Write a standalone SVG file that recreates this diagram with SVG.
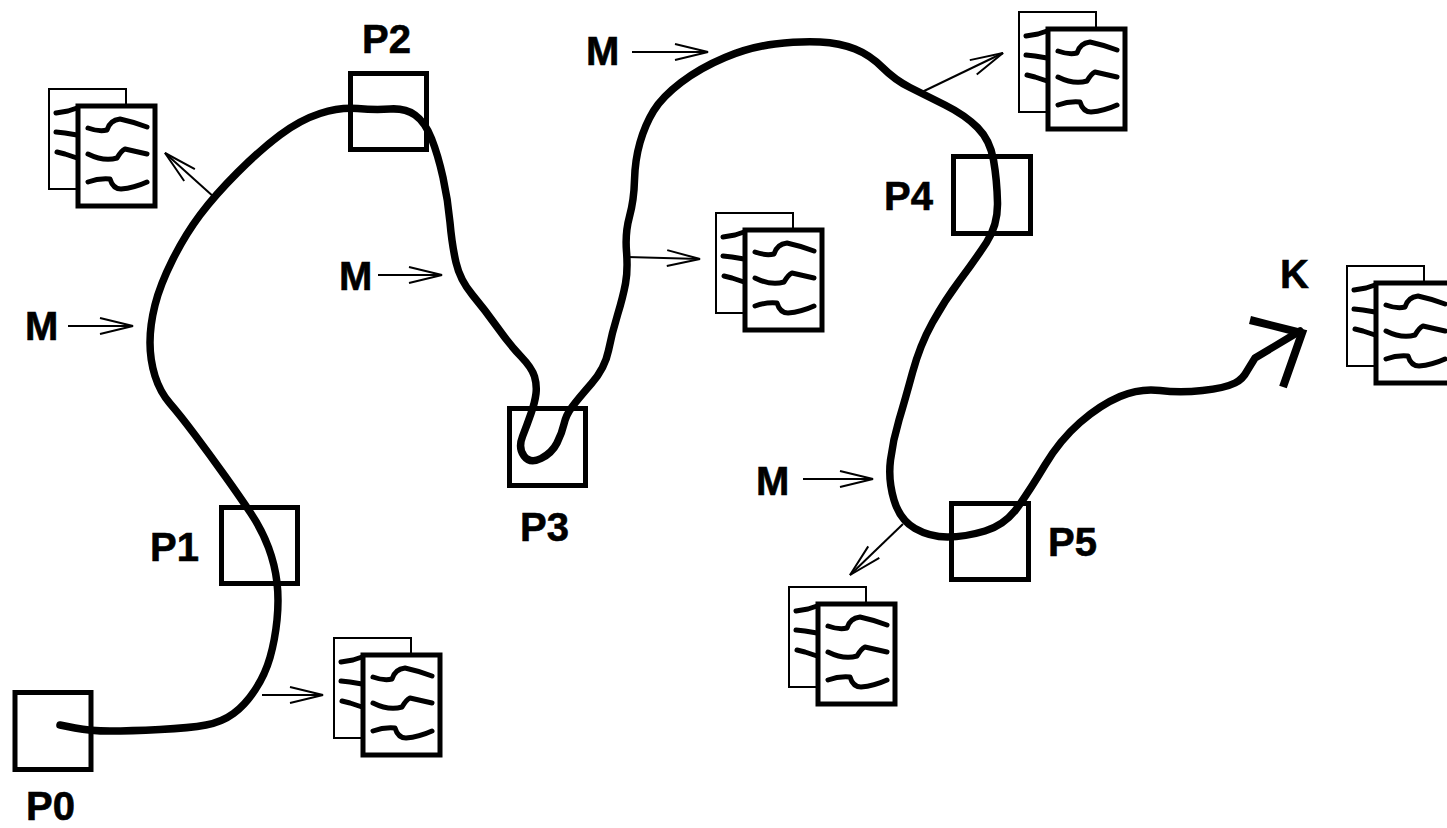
<svg xmlns="http://www.w3.org/2000/svg" xmlns:xlink="http://www.w3.org/1999/xlink" width="1447" height="828" viewBox="0 0 1447 828">
<style>
.box{fill:none;stroke:#000;stroke-width:5}
.lbl{font-family:"Liberation Sans",Arial,sans-serif;font-weight:700;font-size:40px;fill:#000;stroke:#000;stroke-width:.6}
.main{fill:none;stroke:#000;stroke-width:7.5;stroke-linecap:round;stroke-linejoin:round}
.tip{fill:none;stroke:#000;stroke-width:8;stroke-linejoin:miter}
.thin{fill:none;stroke:#000;stroke-width:2;marker-end:url(#open)}
.back{fill:#fff;stroke:#000;stroke-width:2}
.front{fill:#fff;stroke:#000;stroke-width:5}
.sq{fill:none;stroke:#000;stroke-width:5;stroke-linecap:round;stroke-linejoin:round}
</style>
<defs>
<marker id="open" markerUnits="userSpaceOnUse" markerWidth="40" markerHeight="24" refX="36" refY="12" orient="auto" overflow="visible">
<path d="M3,4 L36,12 L3,20" fill="none" stroke="#000" stroke-width="2"/>
</marker>
<g id="doc">
<rect class="back" x="0" y="0" width="77" height="100"/>
<path class="sq" d="M7,24 L19,22 L28,19 M7,43 L16,44 L28,46 M8,63 L16,65 L28,69"/>
<rect class="front" x="29" y="17" width="77" height="100"/>
<path class="sq" d="M39,39 Q50,43 58,41 Q61,31 71,30 Q85,33 98,38 M39,65 Q55,73 68,69 Q72,62 76,60 L98,65 M39,93 Q50,89 61,90 Q64,100 72,100 Q85,99 98,93"/>
</g>
</defs>
<g id="connectors">
<path id="curve" class="main" d="M60,725 L75,728 Q90,731 110,731 Q130,731 160,729.5 Q190,728 206,725 Q222,722 233.5,713.5 Q245,705 255,690 Q265,675 270,657.5 Q275,640 277,620 Q279,600 277,582.5 Q275,565 268.5,547.5 Q262,530 251,513.5 Q240,497 225,476 Q210,455 195,435 Q180,415 170,403.5 Q160,392 155,376 Q150,360 150,342.5 Q150,325 155,305 Q160,285 172.5,260 Q185,235 200,215 Q215,195 237.5,172.5 Q260,150 280,135 Q300,120 320,113.5 Q340,107 357.5,108.5 Q375,110 390,109 Q405,108 415,115 Q425,122 431.5,138.5 Q438,155 443,177.5 Q448,200 450,222.5 Q452,245 456,262.5 Q460,280 472.5,295 Q485,310 497.5,327.5 Q510,345 521,356.5 Q532,368 534.500,376.500 Q537,385 536,393.500 Q535,402 531,413.500 Q527,425 522.500,436.500 Q518,448 524,456 Q530,464 541,458.500 Q552,453 557,443 Q562,433 564,424 Q566,415 572,407 Q578,399 591.500,383.500 Q605,368 608.500,350.500 Q612,333 617.500,315 Q623,297 625.500,283.500 Q628,270 626.500,251.500 Q625,233 629.500,216.500 Q634,200 634.500,180 Q635,160 640,142.500 Q645,125 653.500,111 Q662,97 681,82.500 Q700,68 725,57.500 Q750,47 775,44 Q800,41 820,42 Q840,43 855,49 Q870,55 882.500,67.500 Q895,80 910,87.500 Q925,95 945,105 Q965,115 977.500,127.500 Q990,140 993.500,160 Q997,180 997.500,202.500 Q998,225 986.500,242.500 Q975,260 960,280 Q945,300 932.500,322.500 Q920,345 912.500,372.500 Q905,400 899,420 Q893,440 890.500,460 Q888,480 894,500 Q900,520 915,528.500 Q930,537 947.500,537 Q965,537 985,531 Q1005,525 1017.500,507.500 Q1030,490 1045,465 Q1060,440 1080,422.500 Q1100,405 1120,396.500 Q1140,388 1160,390.500 Q1180,393 1202.500,390.500 Q1225,388 1235,383 Q1243,379 1247,371 L1255,358 L1300,331"/>
<path id="arrowhead" class="tip" d="M1250,320 L1302,333 L1283,387"/>
<line class="thin" x1="68" y1="326" x2="133" y2="326"/>
<line class="thin" x1="378" y1="275" x2="442" y2="275"/>
<line class="thin" x1="632" y1="52" x2="708" y2="52"/>
<line class="thin" x1="803" y1="479" x2="873" y2="479"/>
<line class="thin" x1="262" y1="695" x2="323" y2="695"/>
<line class="thin" x1="215" y1="198" x2="165" y2="153"/>
<line class="thin" x1="627" y1="257" x2="700" y2="259"/>
<line class="thin" x1="922" y1="92" x2="1003" y2="53"/>
<line class="thin" x1="903" y1="524" x2="850" y2="575"/>
</g>
<g id="P0"><rect class="box" x="15" y="692.500" width="76" height="77"/><text class="lbl" x="26" y="819.500">P0</text></g>
<g id="P1"><rect class="box" x="221.500" y="507.500" width="76" height="76"/><text class="lbl" x="150" y="561">P1</text></g>
<g id="P2"><rect class="box" x="350.500" y="73.500" width="76" height="76"/><text class="lbl" x="362" y="53">P2</text></g>
<g id="P3"><rect class="box" x="509.500" y="408.500" width="76" height="77"/><text class="lbl" x="520" y="541">P3</text></g>
<g id="P4"><rect class="box" x="953.500" y="156.500" width="77" height="77"/><text class="lbl" x="884" y="210">P4</text></g>
<g id="P5"><rect class="box" x="951.500" y="503.500" width="77" height="76"/><text class="lbl" x="1048" y="556">P5</text></g>
<g id="K"><text class="lbl" x="1280" y="288">K</text></g>
<g id="M1"><text class="lbl" x="25" y="340">M</text></g>
<g id="M2"><text class="lbl" x="339" y="290">M</text></g>
<g id="M3"><text class="lbl" x="586" y="65">M</text></g>
<g id="M4"><text class="lbl" x="756" y="495">M</text></g>
<g id="doc1"><use xlink:href="#doc" href="#doc" x="49" y="89"/></g>
<g id="doc2"><use xlink:href="#doc" href="#doc" x="334" y="638"/></g>
<g id="doc3"><use xlink:href="#doc" href="#doc" x="716" y="213"/></g>
<g id="doc4"><use xlink:href="#doc" href="#doc" x="1019" y="12"/></g>
<g id="doc5"><use xlink:href="#doc" href="#doc" x="789" y="587"/></g>
<g id="doc6"><use xlink:href="#doc" href="#doc" x="1347" y="266"/></g>
</svg>
